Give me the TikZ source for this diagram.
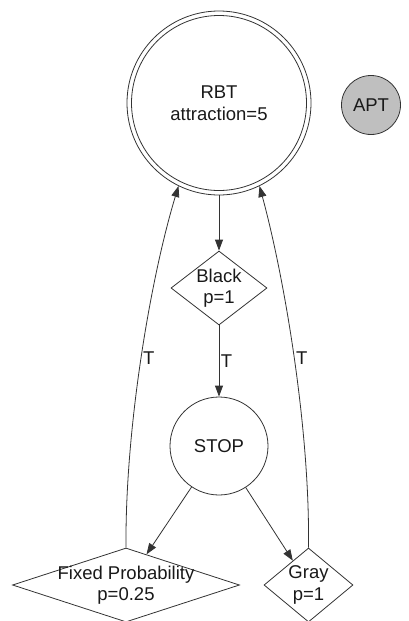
\documentclass[tikz,border=0pt]{standalone}
\usepackage{fontspec}
\setmainfont{Liberation Sans}
\usetikzlibrary{shapes.geometric,arrows.meta}
\begin{document}
\begin{tikzpicture}[x=1pt,y=-1pt,
  every node/.style={font=\fontsize{18.5}{21.5}\selectfont, text=black!90},
  ln/.style={draw=black!80, line width=0.8pt},
  arr/.style={ln, -{Triangle[length=11pt,width=8pt]}},
  cnode/.style={circle, ln, inner sep=0pt, align=center},
  dnode/.style={diamond, ln, inner sep=0pt},
  dtext/.style={align=center, inner sep=0pt},
  elab/.style={right, inner sep=1.5pt}]
\useasboundingbox (0,0) rectangle (408,621);
\node[cnode, minimum size=175pt] (rbtin) at (219,103) {RBT\\attraction=5};
\node[cnode, minimum size=184pt] (rbt) at (219,103) {};
\node[cnode, minimum size=59pt, fill=black!25] (apt) at (371,105) {APT};
\node[dnode, minimum width=96pt, minimum height=74pt, label={[dtext]center:Black\\p=1}] (black) at (219,288) {};
\node[cnode, minimum size=98pt] (stop) at (219,446) {STOP};
\node[dnode, minimum width=227pt, minimum height=74pt, label={[dtext]center:Fixed Probability\\p=0.25}] (fixed) at (126,585) {};
\node[dnode, minimum width=89pt, minimum height=74pt, label={[dtext]center:Gray\\p=1}] (gray) at (308.5,585) {};
\draw[arr] (rbt) -- (black);
\draw[arr] (black) -- node[elab] {T} (stop);
\draw[arr] (stop) -- (fixed);
\draw[arr] (stop) -- (gray);
\draw[arr] (fixed.north) .. controls (125,430) and (150,280) .. node[elab] {T} (rbt.-116);
\draw[arr] (gray.north) .. controls (310,430) and (285,280) .. node[elab] {T} (rbt.-64);
\end{tikzpicture}
\end{document}
